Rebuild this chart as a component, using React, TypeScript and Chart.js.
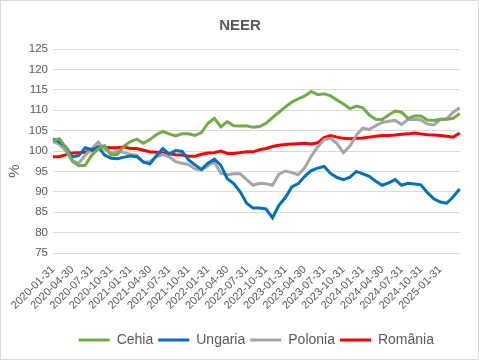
import React, { useEffect, useRef } from "react";
import { Chart, registerables } from "chart.js";

Chart.register(...registerables);

const months = [
  "2020-01-31", "2020-02-29", "2020-03-31", "2020-04-30", "2020-05-31", "2020-06-30",
  "2020-07-31", "2020-08-31", "2020-09-30", "2020-10-31", "2020-11-30", "2020-12-31",
  "2021-01-31", "2021-02-28", "2021-03-31", "2021-04-30", "2021-05-31", "2021-06-30",
  "2021-07-31", "2021-08-31", "2021-09-30", "2021-10-31", "2021-11-30", "2021-12-31",
  "2022-01-31", "2022-02-28", "2022-03-31", "2022-04-30", "2022-05-31", "2022-06-30",
  "2022-07-31", "2022-08-31", "2022-09-30", "2022-10-31", "2022-11-30", "2022-12-31",
  "2023-01-31", "2023-02-28", "2023-03-31", "2023-04-30", "2023-05-31", "2023-06-30",
  "2023-07-31", "2023-08-31", "2023-09-30", "2023-10-31", "2023-11-30", "2023-12-31",
  "2024-01-31", "2024-02-29", "2024-03-31", "2024-04-30", "2024-05-31", "2024-06-30",
  "2024-07-31", "2024-08-31", "2024-09-30", "2024-10-31", "2024-11-30", "2024-12-31",
  "2025-01-31", "2025-02-28", "2025-03-31", "2025-04-30",
];

const xTickLabels = [
  "2020-01-31", "2020-04-30", "2020-07-31", "2020-10-31", "2021-01-31", "2021-04-30",
  "2021-07-31", "2021-10-31", "2022-01-31", "2022-04-30", "2022-07-31", "2022-10-31",
  "2023-01-31", "2023-04-30", "2023-07-31", "2023-10-31", "2024-01-31", "2024-04-30",
  "2024-07-31", "2024-10-31", "2025-01-31",
];

const cehia = [
  102.5, 103, 100.8, 97.5, 96.4, 96.5, 99, 100.5, 101.3, 99, 99.2, 101.2,
  102.3, 102.9, 101.9, 102.8, 104, 104.8, 104.2, 103.7, 104.2, 104.2, 103.8, 104.5,
  106.8, 108, 105.9, 107.2, 106.2, 106.1, 106.2, 105.8, 106, 106.8, 108.2, 109.5,
  110.8, 112, 112.8, 113.5, 114.6, 113.8, 114, 113.5, 112.5, 111.5, 110.4, 111,
  110.6, 108.8, 107.8, 107.7, 108.8, 109.8, 109.5, 108, 108.6, 108.6, 107.6, 107.5,
  107.8, 107.8, 108, 109.2,
];

const ungaria = [
  103, 102.2, 101, 98.5, 98.9, 100.8, 100.3, 101, 99, 98.2, 98.1, 98.5,
  98.8, 98.6, 97.3, 96.8, 98.8, 100.6, 99.3, 100.1, 99.9, 97.8, 96.6, 95.5,
  97, 98, 96.5, 93.2, 92, 90, 87.2, 86, 86, 85.8, 83.6, 86.7,
  88.6, 91.2, 92, 93.8, 95.2, 95.8, 96.2, 94.5, 93.5, 93, 93.6, 95,
  94.4, 93.8, 92.6, 91.6, 92.2, 93, 91.6, 92.1, 91.9, 91.7, 89.8, 88.3,
  87.5, 87.2, 88.8, 90.7,
];

const polonia = [
  102.3, 101.6, 100, 97.6, 97, 99, 100.5, 102.2, 100.4, 99.4, 100, 99.6,
  99.2, 98.9, 97.2, 97.4, 98.6, 99.1, 98.6, 97.4, 97, 96.7, 95.6, 95.3,
  96.4, 97.3, 94.5, 94.2, 94.4, 94.4, 93, 91.6, 92.1, 92, 91.6, 94.3,
  95.1, 94.7, 94.2, 95.9, 98.7, 101, 102.8, 103.1, 101.8, 99.6, 101.2, 103.9,
  105.6, 105.3, 106.2, 107, 107.3, 107.5, 106.5, 107.7, 107.8, 107.6, 106.6, 106.4,
  107.7, 107.9, 109.5, 110.6,
];

const romania = [
  98.6, 98.6, 99.1, 99.5, 99.6, 99.7, 100.1, 100.9, 100.9, 100.8, 100.8, 101,
  100.6, 100.6, 100.2, 99.8, 99.7, 99.5, 99.3, 99.1, 99, 98.7, 98.7, 99.2,
  99.5, 99.6, 100, 99.4, 99.4, 99.6, 99.8, 99.8, 100.3, 100.6, 101.1, 101.4,
  101.6, 101.7, 101.8, 101.9, 101.7, 102, 103.3, 103.8, 103.4, 103.1, 103, 103.1,
  103.2, 103.4, 103.6, 103.8, 103.8, 103.9, 104.1, 104.2, 104.4, 104.2, 104, 103.9,
  103.8, 103.6, 103.4, 104.4,
];

const seriesNames = ["Cehia", "Ungaria", "Polonia", "România"];
const seriesColors = ["#70AD47", "#0070C0", "#A5A5A5", "#FF0000"];

const FONT = '"Liberation Sans", Arial, sans-serif';
const TEXT = "#595959";

const yTitlePlugin = {
  id: "yTitle",
  afterDraw(chart: any) {
    const { ctx } = chart;
    ctx.save();
    ctx.translate(15, 171);
    ctx.rotate(-Math.PI / 2);
    ctx.font = `15px ${FONT}`;
    ctx.fillStyle = TEXT;
    ctx.textAlign = "center";
    ctx.textBaseline = "middle";
    ctx.fillText("%", 0, 0);
    ctx.restore();
  },
};

export default function App() {
  const ref = useRef<HTMLCanvasElement | null>(null);

  useEffect(() => {
    if (!ref.current) return;
    const data = [cehia, ungaria, polonia, romania];
    const chart = new Chart(ref.current, {
      type: "line",
      data: {
        labels: months,
        datasets: seriesNames.map((name, i) => ({
          label: name,
          data: data[i],
          borderColor: seriesColors[i],
          backgroundColor: seriesColors[i],
          borderWidth: 3,
          pointRadius: 0,
          pointHoverRadius: 0,
          tension: 0,
          fill: false,
        })),
      },
      options: {
        responsive: false,
        animation: false,
        layout: { padding: { left: 16, right: 15, top: 0, bottom: 3 } },
        scales: {
          x: {
            grid: { display: false, drawTicks: false },
            border: { display: false },
            ticks: {
              autoSkip: false,
              maxRotation: 45,
              minRotation: 45,
              padding: 10,
              color: TEXT,
              font: { family: FONT, size: 11 },
              callback: (_v: any, idx: number) =>
                xTickLabels.includes(months[idx]) ? months[idx] : "",
            },
            afterFit: (s: any) => {
              s.height = 75;
            },
          },
          y: {
            min: 75,
            max: 125,
            grid: { color: "#D9D9D9", lineWidth: 1, drawTicks: false },
            border: { display: false },
            ticks: {
              stepSize: 5,
              padding: 5,
              color: TEXT,
              font: { family: FONT, size: 11.5 },
            },
            afterFit: (s: any) => {
              s.width = 37;
            },
          },
        },
        plugins: {
          title: {
            display: true,
            text: "NEER",
            color: TEXT,
            font: { family: FONT, size: 15, weight: "bold" },
            padding: { top: 17, bottom: 14 },
          },
          legend: {
            position: "bottom",
            fullSize: false,
            labels: {
              usePointStyle: true,
              pointStyle: "line",
              pointStyleWidth: 31,
              boxHeight: 14,
              padding: 5,
              color: TEXT,
              font: { family: FONT, size: 14 },
            },
          },
          tooltip: { enabled: false },
        },
      },
      plugins: [yTitlePlugin],
    });
    return () => chart.destroy();
  }, []);

  return (
    <div
      style={{
        position: "absolute",
        left: 0,
        top: 0,
        width: 479,
        height: 360,
        background: "#fff",
        boxShadow: "inset 0 0 0 1px #D9D9D9",
      }}
    >
      <canvas ref={ref} width={479} height={360} style={{ width: 479, height: 360, display: "block" }} />
    </div>
  );
}
